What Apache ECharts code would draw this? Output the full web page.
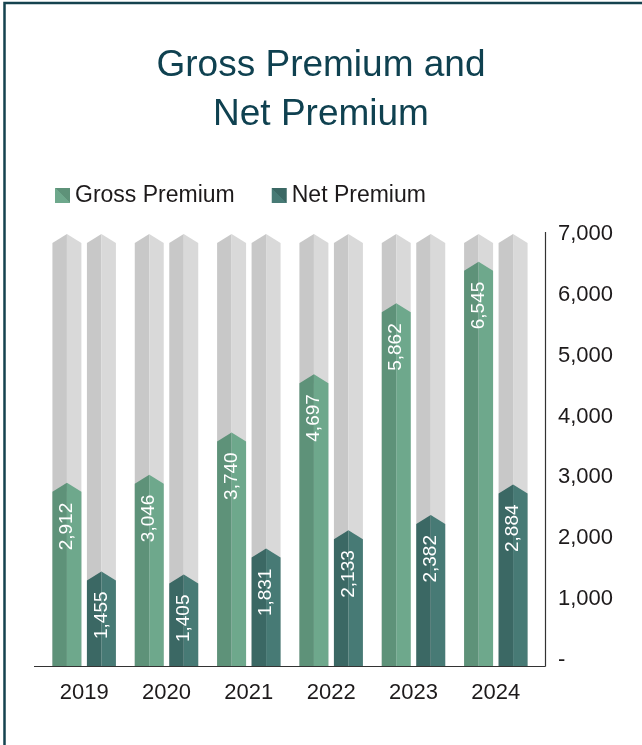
<!DOCTYPE html>
<html>
<head>
<meta charset="utf-8">
<script src="https://cdn.jsdelivr.net/npm/echarts@6/dist/echarts.min.js"></script>
<style>
  html, body { margin: 0; padding: 0; background: #ffffff; }
  #chart { width: 642px; height: 745px; }
</style>
</head>
<body>
<div id="chart"></div>
<script>
const years = ['2019', '2020', '2021', '2022', '2023', '2024'];
const grossPremium = [2912, 3046, 3740, 4697, 5862, 6545];
const netPremium = [1455, 1405, 1831, 2133, 2382, 2884];
const yMin = 0;
const yMax = 7000;
const yInterval = 1000;
const yTickLabels = ['-', '1,000', '2,000', '3,000', '4,000', '5,000', '6,000', '7,000'];

const FONT = '"Liberation Sans", Arial, Helvetica, sans-serif';
const TEXT = '#1d1a1b';
const FRAME = '#15434f';

const COLORS = {
  bg: ['#c8c8c8', '#d9d9d9'],
  gross: ['#5e9279', '#6ea88c'],
  net: ['#3b6864', '#477a75']
};

function fmt(n) { return n.toLocaleString('en-US'); }

function makeRender(offFrac, colors, withLabel) {
  return function (params, api) {
    const i = api.value(0);
    const v = api.value(1);
    const base = api.coord([i, 0]);
    const top = api.coord([i, v]);
    const band = api.size([1, 0])[0];
    const w = band * 0.352;
    const xc = base[0] + band * offFrac;
    const x0 = xc - w / 2, x1 = xc + w / 2;
    const yb = base[1] + 6;
    const yp = top[1];
    const ys = yp + 9;
    const children = [
      { type: 'polygon', shape: { points: [[x0, yb], [x0, ys], [xc, yp], [xc, yb]] }, style: { fill: colors[0] } },
      { type: 'polygon', shape: { points: [[xc, yb], [xc, yp], [x1, ys], [x1, yb]] }, style: { fill: colors[1] } }
    ];
    if (withLabel) {
      children.push({
        type: 'text',
        x: xc,
        y: ys + 11,
        rotation: Math.PI / 2,
        style: {
          text: fmt(v),
          fill: '#ffffff',
          fontSize: 19,
          fontFamily: FONT,
          align: 'right',
          verticalAlign: 'middle'
        }
      });
    }
    return { type: 'group', children: children };
  };
}

const chart = echarts.init(document.getElementById('chart'), null, { renderer: 'canvas' });

const bgData = years.map((y, i) => [i, yMax]);
const grossData = years.map((y, i) => [i, grossPremium[i]]);
const netData = years.map((y, i) => [i, netPremium[i]]);

const option = {
  backgroundColor: '#ffffff',
  animation: false,
  title: {
    text: 'Gross Premium and\nNet Premium',
    left: 'center',
    top: 36,
    textStyle: {
      fontFamily: FONT,
      fontSize: 37,
      fontWeight: 'normal',
      color: '#0f4150',
      lineHeight: 49
    }
  },
  legend: {
    left: 50,
    top: 179,
    itemWidth: 15,
    itemHeight: 15,
    itemGap: 37,
    icon: 'rect',
    selectedMode: false,
    textStyle: { fontFamily: FONT, fontSize: 23, color: TEXT },
    data: [
      { name: 'Gross Premium', itemStyle: { color: new echarts.graphic.LinearGradient(0, 1, 1, 0, [{ offset: 0.5, color: COLORS.gross[1] }, { offset: 0.5, color: COLORS.gross[0] }]) } },
      { name: 'Net Premium', itemStyle: { color: new echarts.graphic.LinearGradient(0, 1, 1, 0, [{ offset: 0.5, color: COLORS.net[1] }, { offset: 0.5, color: COLORS.net[0] }]) } }
    ]
  },
  grid: { left: 43, right: 105, top: 234, bottom: 85 },
  xAxis: {
    type: 'category',
    data: years,
    axisLine: { show: false },
    axisTick: { show: false },
    axisLabel: { fontFamily: FONT, fontSize: 22, color: TEXT, margin: 22 }
  },
  yAxis: {
    type: 'value',
    position: 'right',
    min: yMin,
    max: yMax,
    interval: yInterval,
    splitLine: { show: false },
    axisLine: { show: false },
    axisTick: { show: false },
    axisLabel: {
      fontFamily: FONT,
      fontSize: 22,
      color: TEXT,
      margin: 21,
      formatter: function (val) { return yTickLabels[Math.round((val - yMin) / yInterval)]; }
    }
  },
  series: [
    { type: 'custom', name: 'bgGross', data: bgData, encode: { x: 0, y: 1 }, renderItem: makeRender(-0.2095, COLORS.bg, false), silent: true, z: 1 },
    { type: 'custom', name: 'bgNet', data: bgData, encode: { x: 0, y: 1 }, renderItem: makeRender(0.2095, COLORS.bg, false), silent: true, z: 1 },
    { type: 'custom', name: 'Gross Premium', data: grossData, encode: { x: 0, y: 1 }, renderItem: makeRender(-0.2095, COLORS.gross, true), itemStyle: { color: COLORS.gross[1] }, z: 2 },
    { type: 'custom', name: 'Net Premium', data: netData, encode: { x: 0, y: 1 }, renderItem: makeRender(0.2095, COLORS.net, true), itemStyle: { color: COLORS.net[1] }, z: 2 }
  ]
};

chart.setOption(option);

const p0 = chart.convertToPixel({ xAxisIndex: 0, yAxisIndex: 0 }, [0, yMin]);
const pTop = chart.convertToPixel({ yAxisIndex: 0 }, yMax);
const baseY = p0[1] + 6.5;
const axisX = 545.5;
chart.setOption({
  graphic: [
    { type: 'line', shape: { x1: 34, y1: baseY, x2: axisX, y2: baseY }, style: { stroke: '#333333', lineWidth: 1.2 }, z: 10 },
    { type: 'line', shape: { x1: axisX, y1: pTop - 2, x2: axisX, y2: baseY }, style: { stroke: '#333333', lineWidth: 1.2 }, z: 10 },
    { type: 'polyline', shape: { points: [[4.5, 745], [4.5, 3], [642, 3]] }, style: { stroke: FRAME, lineWidth: 2.5, fill: null }, z: 10 }
  ]
});
</script>
</body>
</html>
